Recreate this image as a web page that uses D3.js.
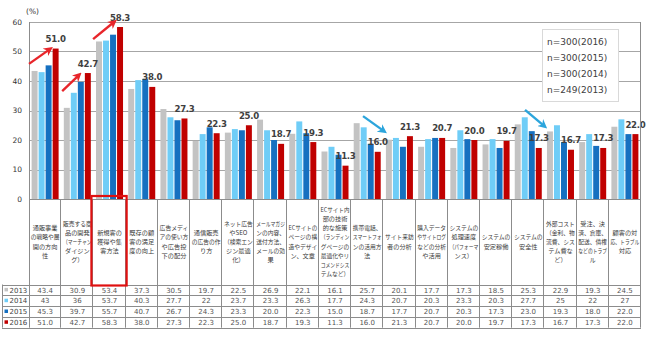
<!DOCTYPE html>
<html>
<head>
<meta charset="utf-8">
<script src="https://cdn.jsdelivr.net/npm/d3@7"></script>
<style>
  html, body { margin: 0; padding: 0; background: #fff; }
  svg { display: block; }
</style>
</head>
<body>
<svg id="chart" width="650" height="338"></svg>
<script>
// Survey categories (line breaks as laid out in the table header)
const categories = [
  "通販事業\nの戦略や展\n開の方向\n性",
  "販売する商\n品の開発\n（マーチャン\nダイジン\nグ）",
  "新規客の\n獲得や集\n客方法",
  "既存の顧\n客の満足\n度の向上",
  "広告メディ\nアの使い方\nや広告投\n下の配分",
  "通信販売\nの広告の作\nり方",
  "ネット広告\nやSEO\n（検索エン\nジン最適\n化）",
  "メールマガジ\nンの内容、\n送付方法、\nメールの効\n果",
  "ECサイトの\nページの構\n造やデザイ\nン、文章",
  "ECサイト内\n部の技術\n的な施策\n（ランディン\nグページの\n最適化やリ\nコメンドシス\nテムなど）",
  "携帯電話、\nスマートフォ\nンの活用方\n法",
  "サイト来訪\n者の分析",
  "購入データ\nやサイトログ\nなどの分析\nや活用",
  "システムの\n処理速度\n（パフォーマ\nンス）",
  "システムの\n安定稼働",
  "システムの\n安全性",
  "外部コスト\n（金利、物\n流費、シス\nテム費な\nど）",
  "受注、決\n済、倉庫、\n配送、債権\nなどのトラブ\nル",
  "顧客の対\n応、トラブル\n対応"
];

const years = ["2013", "2014", "2015", "2016"];

// Percentages per year (table rows)
const values2013 = [43.4, 30.9, 53.4, 37.3, 30.5, 19.7, 22.5, 26.9, 22.1, 16.1, 25.7, 20.1, 17.7, 17.3, 18.5, 25.3, 22.9, 19.3, 24.5];
const values2014 = [43, 36, 53.7, 40.3, 27.7, 22, 23.7, 23.3, 26.3, 17.7, 24.3, 20.7, 20.3, 23.3, 20.3, 27.7, 25, 22, 27];
const values2015 = [45.3, 39.7, 55.7, 40.7, 26.7, 24.3, 23.3, 20.0, 22.3, 15.0, 18.7, 17.7, 20.7, 20.3, 17.3, 23.0, 19.3, 18.0, 22.0];
const values2016 = [51.0, 42.7, 58.3, 38.0, 27.3, 22.3, 25.0, 18.7, 19.3, 11.3, 16.0, 21.3, 20.7, 20.0, 19.7, 17.3, 16.7, 17.3, 22.0];

// Table cell text (as printed)
const tableText2013 = ["43.4","30.9","53.4","37.3","30.5","19.7","22.5","26.9","22.1","16.1","25.7","20.1","17.7","17.3","18.5","25.3","22.9","19.3","24.5"];
const tableText2014 = ["43","36","53.7","40.3","27.7","22","23.7","23.3","26.3","17.7","24.3","20.7","20.3","23.3","20.3","27.7","25","22","27"];
const tableText2015 = ["45.3","39.7","55.7","40.7","26.7","24.3","23.3","20.0","22.3","15.0","18.7","17.7","20.7","20.3","17.3","23.0","19.3","18.0","22.0"];
const tableText2016 = ["51.0","42.7","58.3","38.0","27.3","22.3","25.0","18.7","19.3","11.3","16.0","21.3","20.7","20.0","19.7","17.3","16.7","17.3","22.0"];

const yTicks = [0, 10, 20, 30, 40, 50, 60];
const sampleLabels = ["n=300(2016)", "n=300(2015)", "n=300(2014)", "n=249(2013)"];

// Trend arrows: category index, start/end as band fraction and value
const upArrows = [
  { cat: 0, f0: 0.0, v0: 45.8, f1: 0.65, v1: 50.8 },
  { cat: 1, f0: 0.03, v0: 36.6, f1: 0.55, v1: 42.0 },
  { cat: 2, f0: -0.01, v0: 54.2, f1: 0.64, v1: 60.0 }
];
const downArrows = [
  { cat: 10, f0: 0.37, v0: 28.1, f1: 1.02, v1: 23.0 },
  { cat: 15, f0: 0.40, v0: 30.2, f1: 1.00, v1: 24.7 }
];
const highlightCat = 2;

const colors = { "2013": "#c3c3c3", "2014": "#6fcdf7", "2015": "#1670c0", "2016": "#c00000" };
const series = [values2013, values2014, values2015, values2016];
const tableRows = [tableText2013, tableText2014, tableText2015, tableText2016];

const svg = d3.select("#chart");
const plotLeft = 29, plotRight = 641, plotTop = 22, plotBottom = 199;
const headerBottom = 284.5, rowH = 10.8, tableLeft = 2;

const x = d3.scaleBand().domain(d3.range(categories.length)).range([plotLeft, plotRight]).padding(0);
const bw = x.bandwidth();
const xs = d3.scaleBand().domain(years).range([2.6, bw - 2.6]).paddingInner(0.15);
const y = d3.scaleLinear().domain([0, 60]).range([plotBottom, plotTop]);

// Gridlines
svg.append("g").selectAll("line").data(yTicks.filter(d => d > 0)).join("line")
  .attr("x1", plotLeft).attr("x2", plotRight)
  .attr("y1", d => Math.round(y(d)) + 0.5).attr("y2", d => Math.round(y(d)) + 0.5)
  .attr("stroke", "#a6a6a6").attr("stroke-width", 1);

// Y axis labels
const yAxis = d3.axisLeft(y).tickValues(yTicks).tickSize(0).tickPadding(7);
const yg = svg.append("g").attr("transform", `translate(${plotLeft},0)`).call(yAxis);
yg.select(".domain").remove();
yg.selectAll("text").attr("font-family", "DejaVu Sans").attr("font-size", 7.5).attr("fill", "#333");

svg.append("text").attr("x", 26).attr("y", 14).attr("font-family", "DejaVu Sans")
  .attr("font-size", 7.5).attr("fill", "#333").text("(%)");

// Bars
const groups = svg.append("g").selectAll("g").data(categories.map((c, i) => i)).join("g")
  .attr("transform", i => `translate(${x(i)},0)`);
groups.selectAll("rect").data(i => years.map((yr, k) => ({ yr, v: series[k][i] }))).join("rect")
  .attr("x", d => xs(d.yr)).attr("width", xs.bandwidth())
  .attr("y", d => y(d.v)).attr("height", d => y(0) - y(d.v))
  .attr("fill", d => colors[d.yr]);

// Value labels for 2016
svg.append("g").selectAll("text").data(values2016).join("text")
  .attr("x", (d, i) => x(i) + xs("2016") + xs.bandwidth() / 2)
  .attr("y", d => y(d) - 6.5)
  .attr("text-anchor", "middle")
  .attr("font-family", "DejaVu Sans").attr("font-weight", "bold").attr("font-size", 8.6)
  .attr("letter-spacing", -0.3)
  .attr("fill", "#3f3f3f")
  .text((d, i) => tableText2016[i]);

// Table & frame lines
const lineColor = "#8c8c8c";
const tableBottom = headerBottom + rowH * 4;
const frame = svg.append("g").attr("stroke", lineColor).attr("stroke-width", 1);
// left axis
frame.append("line").attr("x1", plotLeft + 0.5).attr("x2", plotLeft + 0.5).attr("y1", plotTop).attr("y2", tableBottom);
// category boundaries through header and rows (last one is the right frame)
frame.selectAll(".vb").data(d3.range(1, categories.length + 1)).join("line")
  .attr("x1", i => Math.round(x(0) + i * bw) - 0.5).attr("x2", i => Math.round(x(0) + i * bw) - 0.5)
  .attr("y1", i => i === categories.length ? plotTop : plotBottom)
  .attr("y2", tableBottom);
// baseline
frame.append("line").attr("x1", plotLeft).attr("x2", plotRight).attr("y1", plotBottom + 0.5).attr("y2", plotBottom + 0.5);
// row lines
frame.selectAll(".hr").data(d3.range(5)).join("line")
  .attr("x1", tableLeft).attr("x2", plotRight)
  .attr("y1", r => Math.round(headerBottom + r * rowH) + 0.5)
  .attr("y2", r => Math.round(headerBottom + r * rowH) + 0.5);
frame.append("line").attr("x1", tableLeft + 0.5).attr("x2", tableLeft + 0.5)
  .attr("y1", headerBottom).attr("y2", tableBottom);

// Header labels: one text per line, squeezed horizontally when wider than the cell
const headerMid = (plotBottom + headerBottom) / 2;
const lh = 9.2;
const maxW = bw - 3.5;
const header = svg.append("g");
categories.forEach((c, i) => {
  const lines = c.split("\n");
  lines.forEach((ln, j) => {
    const cx = x(i) + bw / 2;
    const ly = headerMid - (lines.length - 1) * lh / 2 + j * lh + 2.2;
    const t = header.append("text")
      .attr("font-family", "Noto Sans CJK JP").attr("font-size", 6.2).attr("fill", "#3a3a3a")
      .attr("text-anchor", "middle")
      .text(ln);
    const w = t.node().getComputedTextLength();
    const s = w > maxW ? maxW / w : 1;
    t.attr("transform", `translate(${cx},${ly}) scale(${s},1)`);
  });
});

// Table rows
years.forEach((yr, r) => {
  const cy = headerBottom + r * rowH + rowH / 2;
  svg.append("rect").attr("x", 4.5).attr("y", cy - 2).attr("width", 3.5).attr("height", 3.5).attr("fill", colors[yr]);
  svg.append("text").attr("x", 9.5).attr("y", cy + 2.6)
    .attr("font-family", "DejaVu Sans").attr("font-size", 7).attr("fill", "#444").text(yr);
  svg.append("g").selectAll("text").data(tableRows[r]).join("text")
    .attr("x", (d, i) => x(i) + bw / 2).attr("y", cy + 2.6)
    .attr("text-anchor", "middle")
    .attr("font-family", "DejaVu Sans").attr("font-size", 7).attr("fill", "#555")
    .text(d => d);
});

// Highlight box around the new-customer category
svg.append("rect")
  .attr("x", x(highlightCat) - 2).attr("y", plotBottom - 3)
  .attr("width", bw + 3).attr("height", headerBottom - plotBottom + 4)
  .attr("fill", "none").attr("stroke", "#e01010").attr("stroke-width", 2.2);

// Sample-size box
const lg = svg.append("g");
lg.append("rect").attr("x", 542.5).attr("y", 29.5).attr("width", 76).attr("height", 72)
  .attr("fill", "#fff").attr("stroke", "#d9d9d9");
lg.selectAll("text").data(sampleLabels).join("text")
  .attr("x", 547).attr("y", (d, i) => 45 + i * 16)
  .attr("font-family", "DejaVu Sans").attr("font-size", 9).attr("fill", "#404040")
  .text(d => d);

// Arrows
const defs = svg.append("defs");
function marker(id, color) {
  defs.append("marker").attr("id", id).attr("viewBox", "0 0 10 10")
    .attr("refX", 6).attr("refY", 5).attr("markerWidth", 3.8).attr("markerHeight", 3.8)
    .attr("orient", "auto")
    .append("path").attr("d", "M0,0 L10,5 L0,10 L3,5 Z").attr("fill", color);
}
marker("headRed", "#e8252a");
marker("headBlue", "#2ca5dc");
function drawArrows(list, color, id) {
  svg.append("g").selectAll("line").data(list).join("line")
    .attr("x1", d => x(d.cat) + d.f0 * bw).attr("y1", d => y(d.v0))
    .attr("x2", d => x(d.cat) + d.f1 * bw).attr("y2", d => y(d.v1))
    .attr("stroke", color).attr("stroke-width", 2.4)
    .attr("marker-end", `url(#${id})`);
}
drawArrows(upArrows, "#e8252a", "headRed");
drawArrows(downArrows, "#2ca5dc", "headBlue");
</script>
</body>
</html>
